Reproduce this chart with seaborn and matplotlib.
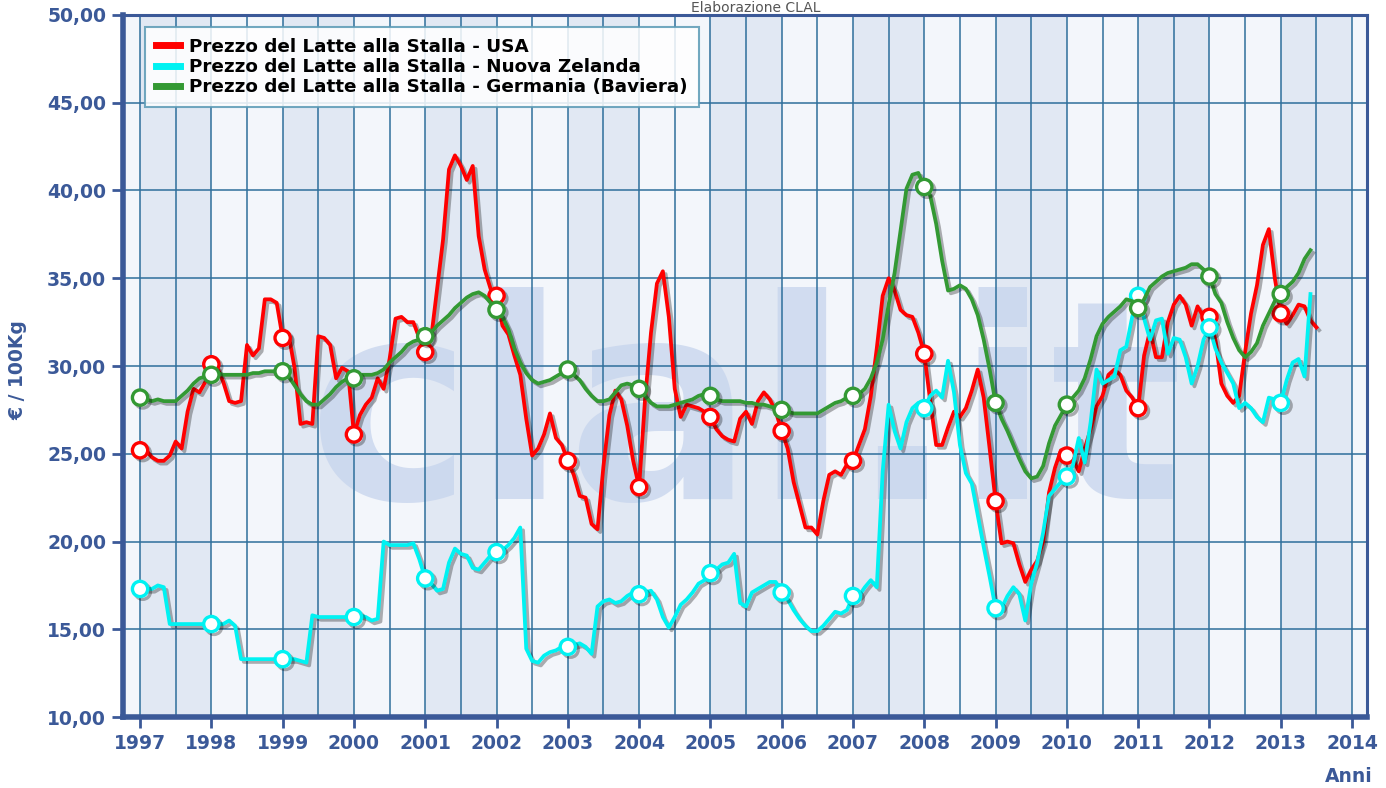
import numpy as np
import pandas as pd
import matplotlib
matplotlib.use('Agg')
import matplotlib.pyplot as plt
import matplotlib.patheffects as pe
from matplotlib.ticker import FuncFormatter, MultipleLocator
import seaborn as sns

# ── Dati mensili (€/100Kg), gennaio 1997 -> 2013 ─────────────────────
usa = [
    25.2, 25.2, 24.8, 24.6, 24.6, 24.9, 25.7, 25.3, 27.4, 28.7, 28.5, 29.1,   # 1997
    30.1, 29.9, 29.1, 28.0, 27.9, 28.0, 31.2, 30.6, 31.0, 33.8, 33.8, 33.6,   # 1998
    31.6, 31.8, 29.9, 26.7, 26.8, 26.7, 31.7, 31.6, 31.2, 29.3, 29.9, 29.7,   # 1999
    26.1, 27.2, 27.8, 28.2, 29.3, 28.7, 30.4, 32.7, 32.8, 32.5, 32.5, 31.6,   # 2000
    30.8, 31.6, 34.4, 37.2, 41.2, 42.0, 41.4, 40.6, 41.4, 37.4, 35.5, 34.4,   # 2001
    34.0, 32.3, 31.8, 30.6, 29.5, 27.0, 24.9, 25.3, 26.1, 27.3, 25.9, 25.5,   # 2002
    24.6, 23.8, 22.6, 22.5, 21.0, 20.7, 24.3, 27.2, 28.6, 28.1, 26.6, 24.6,   # 2003
    23.1, 28.1, 31.9, 34.7, 35.4, 32.8, 28.7, 27.1, 27.8, 27.7, 27.6, 27.4,   # 2004
    27.1, 26.4, 26.0, 25.8, 25.7, 27.0, 27.4, 26.7, 28.0, 28.5, 28.1, 27.4,   # 2005
    26.3, 25.3, 23.4, 22.1, 20.8, 20.8, 20.4, 22.3, 23.8, 24.0, 23.8, 24.4,   # 2006
    24.6, 25.5, 26.4, 28.3, 31.0, 34.0, 35.0, 34.3, 33.2, 32.9, 32.8, 31.9,   # 2007
    30.7, 28.0, 25.5, 25.5, 26.5, 27.4, 27.1, 27.6, 28.6, 29.8, 28.2, 25.3,   # 2008
    22.3, 19.9, 20.0, 19.9, 18.7, 17.7, 18.4, 18.9, 20.0, 22.8, 24.2, 25.2,   # 2009
    24.9, 24.7, 24.0, 25.3, 26.4, 27.7, 28.3, 29.5, 29.8, 29.5, 28.6, 28.2,   # 2010
    27.6, 30.6, 32.0, 30.5, 30.5, 32.5, 33.5, 34.0, 33.5, 32.3, 33.4, 32.8,   # 2011
    32.8, 31.5, 29.0, 28.3, 27.9, 28.3, 30.8, 33.0, 34.6, 36.9, 37.8, 35.0,   # 2012
    33.0, 32.4, 32.9, 33.5, 33.4, 32.6, 32.2,                                 # 2013
]

nuova_zelanda = [
    17.3, 17.3, 17.3, 17.5, 17.4, 15.3, 15.3, 15.3, 15.3, 15.3, 15.3, 15.3,   # 1997
    15.3, 15.3, 15.3, 15.5, 15.2, 13.3, 13.3, 13.3, 13.3, 13.3, 13.3, 13.3,   # 1998
    13.3, 13.3, 13.3, 13.2, 13.1, 15.8, 15.7, 15.7, 15.7, 15.7, 15.7, 15.7,   # 1999
    15.7, 15.8, 15.7, 15.5, 15.6, 20.0, 19.8, 19.8, 19.8, 19.8, 19.9, 19.0,   # 2000
    17.9, 17.6, 17.2, 17.3, 18.8, 19.6, 19.3, 19.2, 18.5, 18.4, 18.8, 19.2,   # 2001
    19.4, 19.5, 19.8, 20.2, 20.8, 13.9, 13.2, 13.1, 13.5, 13.7, 13.8, 14.0,   # 2002
    14.0, 14.1, 14.2, 14.0, 13.6, 16.3, 16.6, 16.7, 16.5, 16.6, 16.9, 17.1,   # 2003
    17.0, 17.1, 17.2, 16.7, 15.7, 15.1, 15.7, 16.4, 16.7, 17.1, 17.6, 17.8,   # 2004
    18.2, 18.4, 18.7, 18.8, 19.3, 16.5, 16.3, 17.1, 17.3, 17.5, 17.7, 17.7,   # 2005
    17.1, 16.7, 16.1, 15.6, 15.2, 14.9, 14.9, 15.2, 15.6, 16.0, 15.9, 16.1,   # 2006
    16.9, 16.9, 17.4, 17.8, 17.4, 24.0, 27.8, 26.3, 25.3, 26.8, 27.6, 27.9,   # 2007
    27.6, 28.3, 28.6, 28.2, 30.3, 28.5, 25.5, 23.9, 23.3, 21.5, 19.7, 18.0,   # 2008
    16.2, 16.2, 16.9, 17.4, 17.0, 15.5, 17.6, 18.8, 20.5, 22.6, 23.0, 23.4,   # 2009
    23.7, 24.3, 25.9, 24.5, 26.8, 29.8, 29.0, 29.2, 29.4, 30.9, 31.1, 32.8,   # 2010
    34.0, 32.7, 31.5, 32.6, 32.7, 30.7, 31.6, 31.5, 30.5, 29.0, 30.0, 31.5,   # 2011
    32.2, 31.0, 30.2, 29.6, 29.0, 27.6, 27.9, 27.6, 27.1, 26.8, 28.2, 28.1,   # 2012
    27.9, 29.2, 30.2, 30.4, 29.4, 34.1,                                       # 2013
]

germania = [
    28.2, 28.1, 28.0, 28.1, 28.0, 28.0, 28.0, 28.3, 28.6, 29.0, 29.3, 29.4,   # 1997
    29.5, 29.6, 29.5, 29.5, 29.5, 29.5, 29.5, 29.6, 29.6, 29.7, 29.7, 29.7,   # 1998
    29.7, 29.4, 28.9, 28.4, 28.0, 27.8, 27.8, 28.1, 28.4, 28.8, 29.1, 29.3,   # 1999
    29.3, 29.5, 29.5, 29.5, 29.6, 29.8, 30.2, 30.5, 30.8, 31.2, 31.4, 31.5,   # 2000
    31.7, 31.9, 32.3, 32.6, 32.9, 33.3, 33.6, 33.9, 34.1, 34.2, 34.0, 33.6,   # 2001
    33.2, 32.8, 32.1, 31.0, 30.2, 29.6, 29.2, 29.0, 29.1, 29.2, 29.4, 29.6,   # 2002
    29.8, 29.5, 29.2, 28.7, 28.3, 28.0, 28.0, 28.1, 28.5, 28.9, 29.0, 28.9,   # 2003
    28.7, 28.3, 27.9, 27.7, 27.7, 27.7, 27.8, 27.9, 28.0, 28.1, 28.3, 28.4,   # 2004
    28.3, 28.1, 28.0, 28.0, 28.0, 28.0, 27.9, 27.9, 27.8, 27.8, 27.7, 27.6,   # 2005
    27.5, 27.4, 27.3, 27.3, 27.3, 27.3, 27.3, 27.5, 27.7, 27.9, 28.0, 28.2,   # 2006
    28.3, 28.4, 28.7, 29.3, 30.2, 31.5, 33.5, 35.3, 37.7, 40.1, 40.9, 41.0,   # 2007
    40.2, 39.7, 38.1, 36.0, 34.3, 34.4, 34.6, 34.4, 33.8, 32.9, 31.5, 29.8,   # 2008
    27.9, 27.0, 26.3, 25.5, 24.7, 24.0, 23.6, 23.7, 24.3, 25.6, 26.6, 27.2,   # 2009
    27.8, 28.2, 28.6, 29.3, 30.4, 31.7, 32.4, 32.8, 33.1, 33.4, 33.8, 33.7,   # 2010
    33.3, 33.8, 34.5, 34.8, 35.1, 35.3, 35.4, 35.5, 35.6, 35.8, 35.8, 35.5,   # 2011
    35.1, 34.1, 33.6, 32.5, 31.6, 30.9, 30.5, 30.8, 31.3, 32.3, 33.0, 33.7,   # 2012
    34.1, 34.5, 34.8, 35.3, 36.1, 36.6,                                       # 2013
]

etichette = ['Prezzo del Latte alla Stalla - USA',
             'Prezzo del Latte alla Stalla - Nuova Zelanda',
             'Prezzo del Latte alla Stalla - Germania (Baviera)']
colori = ['#ff0000', '#00f2f2', '#339933']
anni = list(range(1997, 2015))

NAVY = '#3b5998'
GRID = '#2f6f9c'

fig = plt.figure(figsize=(13.86, 7.88), dpi=100)
fig.patch.set_facecolor('white')
ax = fig.add_axes([0.0887, 0.090, 0.8976, 0.891])

# bande annuali alternate
for a in anni[:-1]:
    ax.axvspan(a, a + 1, color='#e1e8f3' if a % 2 == 1 else '#f3f6fb', zorder=0, lw=0)
ax.axvspan(1996.5, 1997, color='#f3f6fb', zorder=0, lw=0)
ax.axvspan(2014, 2014.5, color='#f3f6fb', zorder=0, lw=0)

# filigrana
ax.text(2005.49, 22.4, 'clal.it', ha='center', va='baseline', fontsize=200,
        fontweight='bold', color='#c6d4ed', alpha=0.75, zorder=0.6)

ombra = [pe.SimpleLineShadow(offset=(2, -2), shadow_color='black', alpha=0.3),
         pe.Normal()]

for serie, lab, col in zip([usa, nuova_zelanda, germania], etichette, colori):
    df = pd.DataFrame({'anno': 1997 + np.arange(len(serie)) / 12.0, 'prezzo': serie})
    sns.lineplot(data=df, x='anno', y='prezzo', ax=ax, color=col, lw=2.7,
                 label=lab, marker='o', markevery=12, markersize=11,
                 markerfacecolor='white', markeredgecolor=col, markeredgewidth=2.4,
                 path_effects=ombra, zorder=3)

ax.set_xlim(1996.76, 2014.21)
ax.set_ylim(10, 50)
ax.xaxis.set_major_locator(MultipleLocator(1))
ax.xaxis.set_minor_locator(MultipleLocator(0.5))
ax.yaxis.set_major_locator(MultipleLocator(5))
ax.yaxis.set_major_formatter(FuncFormatter(lambda v, p: f'{v:.2f}'.replace('.', ',')))
ax.xaxis.set_major_formatter(FuncFormatter(lambda v, p: f'{int(round(v))}'))

ax.set_axisbelow('line')
ax.grid(True, which='both', axis='x', color=GRID, lw=1.3, alpha=0.85)
ax.grid(True, which='major', axis='y', color=GRID, lw=1.3, alpha=0.85)

ax.tick_params(axis='both', which='major', colors=NAVY, length=8, width=2,
               labelsize=13.5, pad=4)
ax.tick_params(axis='x', which='minor', length=0)
for t in ax.get_xticklabels() + ax.get_yticklabels():
    t.set_fontweight('bold')

for s in ['left', 'bottom']:
    ax.spines[s].set_color(NAVY)
    ax.spines[s].set_linewidth(4)
for s in ['top', 'right']:
    ax.spines[s].set_color(NAVY)
    ax.spines[s].set_linewidth(2.2)

ax.set_xlabel('')
ax.set_ylabel('')
fig.text(0.013, 0.53, '€ / 100Kg', rotation=90, ha='center', va='center',
         fontsize=13.5, fontweight='bold', color=NAVY)
fig.text(0.973, 0.015, 'Anni', ha='center', va='center',
         fontsize=13.5, fontweight='bold', color=NAVY)
fig.text(0.545, 0.999, 'Elaborazione CLAL', ha='center', va='top',
         fontsize=10, color='#555555')

leg = ax.legend(loc='upper left', bbox_to_anchor=(0.0177, 0.983), borderaxespad=0,
                prop={'weight': 'bold', 'size': 13.2}, frameon=True, fancybox=False,
                handlelength=1.3, handletextpad=0.5, labelspacing=0.12,
                borderpad=0.6)
leg.get_frame().set_edgecolor('#5a9ab5')
leg.get_frame().set_linewidth(1.5)
leg.get_frame().set_facecolor('white')
leg.get_frame().set_alpha(0.85)
for h in leg.legend_handles:
    h.set_marker('')
    h.set_linewidth(5)
    h.set_path_effects([])

fig.savefig('out.png', dpi=100, facecolor='white')
